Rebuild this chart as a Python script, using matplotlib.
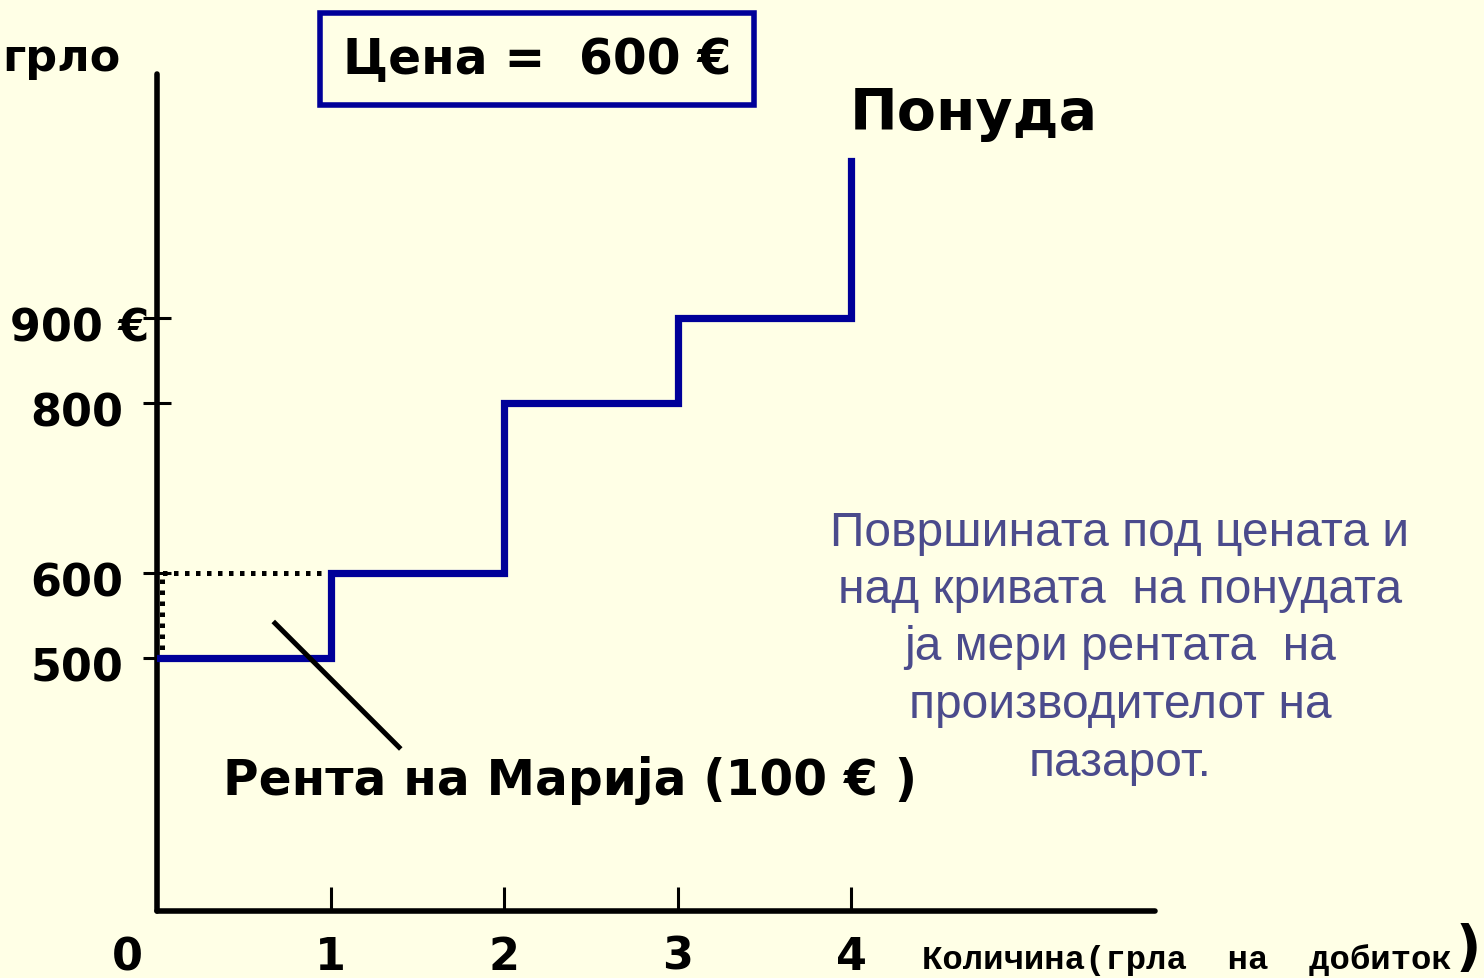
import matplotlib
matplotlib.use('Agg')
import matplotlib.pyplot as plt
from matplotlib.patches import Rectangle
import matplotlib.transforms as mtransforms

# supply curve (step): quantity where price changes, price of each step
quantity = [0, 1, 2, 3, 4]
price = [500, 600, 800, 900, 1085]
price_line = 600
rent_q = [0, 1]
y_ticks = [500, 600, 800, 900]
y_tick_labels = ['500', '600', '800', '900 €']
x_ticks = [1, 2, 3, 4]
x_tick_labels = ['1', '2', '3', '4']

paragraph = ['Површината под цената и',
             'над кривата  на понудата',
             'ја мери рентата  на',
             'производителот на',
             'пазарот.']

bg = '#FFFFE6'
navy = '#000099'
slate = '#4B4B8C'

W, H = 1484, 979
fig = plt.figure(figsize=(W / 100, H / 100), dpi=100, facecolor=bg)
ax = fig.add_axes([157 / W, (H - 912) / H, 998 / W, (912 - 75) / H])
ax.set_facecolor(bg)
ax.set_xlim(0, 998 / 173.5)
ax.set_ylim(202.4, 1187)

for s in ['top', 'right']:
    ax.spines[s].set_visible(False)
for s in ['left', 'bottom']:
    ax.spines[s].set_linewidth(4)
    ax.spines[s].set_capstyle('round')

ax.set_yticks(y_ticks)
ax.set_yticklabels([])
ax.tick_params(axis='y', direction='inout', length=20, width=2.2, color='black')
ax.set_xticks(x_ticks)
ax.set_xticklabels(x_tick_labels, fontsize=32, fontweight='bold')
ax.tick_params(axis='x', direction='in', length=17, width=2.2, pad=17, color='black')

# y labels placed a little below the ticks
bl = mtransforms.blended_transform_factory(ax.transAxes, ax.transData)
for v, lab in zip(y_ticks, y_tick_labels):
    xr = -0.008 if '€' in lab else -0.034
    ax.text(xr, v - 12, lab, transform=bl, ha='right', va='center',
            fontsize=32, fontweight='bold')
ax.text(-30 / 998, -0.055, '0', transform=ax.transAxes, ha='center', va='center',
        fontsize=32, fontweight='bold')

# producer rent rectangle (dotted)
ax.plot([rent_q[0] + 0.03, rent_q[1], rent_q[1], rent_q[0] + 0.03, rent_q[0] + 0.03],
        [price[0], price[0], price_line, price_line, price[0]],
        color='black', lw=3.6, ls=(0, (0.9, 1.3)), zorder=2)

# supply curve
ax.step(quantity, price, where='post', color=navy, lw=5.2, zorder=3,
        solid_joinstyle='miter')

# pointer line
ax.plot([0.67, 1.405], [543, 393], color='black', lw=3.6, zorder=4,
        solid_capstyle='butt')

ax.text(2.38, 357, 'Рента на Марија (100 € )', ha='center', va='center',
        fontsize=35, fontweight='bold')
ax.text(3.99, 1140, 'Понуда', ha='left', va='center', fontsize=41, fontweight='bold')

for i, line in enumerate(paragraph):
    fig.text(1120 / W, 1 - (533 + 57.5 * i) / H, line, ha='center', va='center',
             fontsize=34.5, color=slate, family='Liberation Sans')

# price box
fig.add_artist(Rectangle((320 / W, 1 - 106 / H), 434 / W, 92 / H,
                         transform=fig.transFigure, fill=False,
                         edgecolor=navy, lw=4))
fig.text(537 / W, 1 - 60 / H, 'Цена =  600 €', ha='center', va='center',
         fontsize=35, fontweight='bold')

fig.text(2 / W, 1 - 58 / H, 'грло', ha='left', va='center',
         fontsize=32, fontweight='bold')

fig.text(922 / W, 1 - 960 / H, 'Количина(грла  на  добиток', ha='left',
         va='center', fontsize=24.5, fontweight='bold', family='Liberation Mono')
fig.text(1468 / W, 1 - 950 / H, ')', ha='center', va='center',
         fontsize=40, fontweight='bold')

fig.savefig('out.png', dpi=100, facecolor=bg)
